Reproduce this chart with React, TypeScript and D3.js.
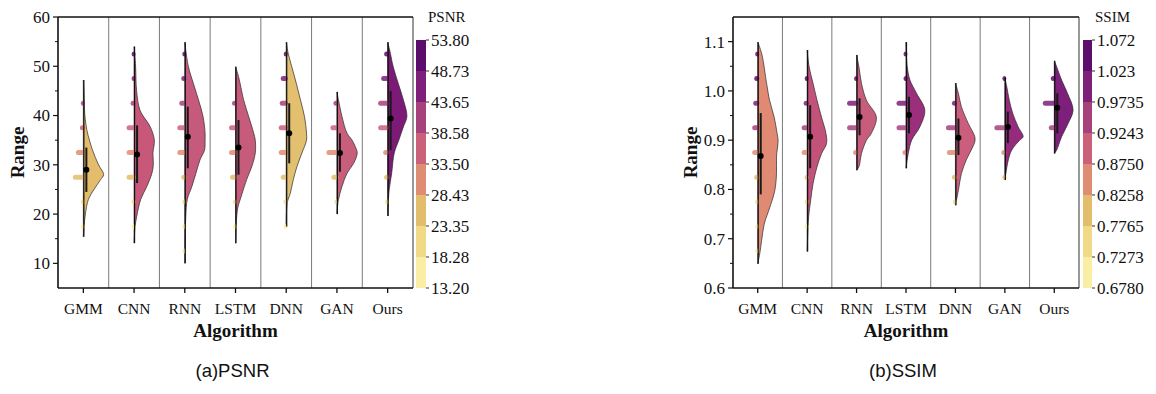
import React from "react";
import * as d3 from "d3";

const categories = ["GMM", "CNN", "RNN", "LSTM", "DNN", "GAN", "Ours"];

// discrete colormap, low -> high
const binColors = ["#f9eea3", "#f0da88", "#e2bd6c", "#df8d72", "#cb607a", "#a6417c", "#7e1f7a", "#5c0c6a"];

// ---------- PSNR ----------
const psnrTicks = [10, 20, 30, 40, 50, 60];
const psnrMinor = [15, 25, 35, 45, 55];
const psnrBarLabels = ["13.20", "18.28", "23.35", "28.43", "33.50", "38.58", "43.65", "48.73", "53.80"];
const psnrLevels = [12.5, 17.5, 22.5, 27.5, 32.5, 37.5, 42.5, 47.5, 52.5];
const psnrViolinColors = ["#e3bd6b", "#c8587a", "#c55a7c", "#c75b7b", "#e3c06f", "#c95e7c", "#7d1a78"];
const psnrProfiles: [number, number][][] = [
  [[15.4, 0], [17, 0.5], [20, 2], [23, 5], [25, 10.5], [27, 17], [28, 20], [30, 15], [33, 9], [35, 6], [37, 3.5], [40, 1.5], [42, 1], [45, 0.5], [47.2, 0]],
  [[14.1, 0], [17.5, 1], [19.5, 2.6], [23, 6.6], [25.6, 12.6], [28.3, 17.6], [30, 19], [32.4, 18.6], [35, 20], [37.7, 16], [41, 6], [45, 2.5], [50, 1.5], [54, 0]],
  [[10, 0], [19.5, 1], [23, 2.5], [25.6, 7], [28.3, 11], [31, 15], [33, 19.5], [35, 20], [36.5, 20], [39.8, 18], [43.2, 13.5], [46.5, 8.5], [50, 3.5], [54.9, 0]],
  [[14.1, 0], [21, 2], [23.5, 5.5], [27, 11], [29.6, 16], [32.4, 19.5], [35, 19.5], [36.4, 18], [39.8, 13], [43.2, 8], [47.9, 3], [49.9, 0]],
  [[17.5, 0], [22.3, 1], [24.2, 4], [27, 7], [29.6, 10.5], [32.4, 15.5], [35, 20], [36.4, 20], [39.8, 18], [43.2, 14], [46.5, 10], [49.9, 5.5], [52.6, 2], [54.9, 0]],
  [[20, 0], [22.9, 1.5], [25.6, 5], [28.3, 10], [30.3, 16.5], [32.4, 20], [33.5, 18.5], [35, 15], [36.4, 10], [39.8, 5], [43.2, 1.5], [44.8, 0]],
  [[19.6, 0], [21.5, 0.5], [24.9, 1.5], [28.3, 4], [32.4, 6.5], [35, 11], [37.7, 15.5], [39.8, 19], [43.2, 15.5], [46.5, 10.5], [49.9, 5.5], [53.3, 2], [54.9, 0]],
];
const psnrWhiskers: [number, number][] = [[15.4, 47.2], [14.1, 54], [10, 54.9], [14.1, 49.9], [17.5, 54.9], [20, 44.8], [19.6, 54.9]];
const psnrBoxes: [number, number][] = [[24.5, 33.5], [26.3, 38], [29.3, 41.8], [28, 39.1], [30.3, 42.5], [28.6, 36.4], [33, 45]];
const psnrMeans = [29, 32.1, 35.7, 33.5, 36.4, 32.4, 39.4];
const psnrStrips = [
  [0, 2, 4, 12, 9, 5, 2, 0, 0],
  [0, 2, 4, 9, 9, 9, 5, 2, 2],
  [1, 1, 3, 5, 9, 9, 7, 5, 2],
  [0, 1, 3, 7, 8, 8, 5, 0, 0],
  [0, 1, 4, 7, 9, 9, 8, 7, 3],
  [0, 0, 3, 7, 12, 8, 5, 0, 0],
  [0, 0, 2, 5, 6, 11, 11, 8, 5],
];

// ---------- SSIM ----------
const ssimTicks = [0.6, 0.7, 0.8, 0.9, 1.0, 1.1];
const ssimMinor = [0.65, 0.75, 0.85, 0.95, 1.05];
const ssimBarLabels = ["0.6780", "0.7273", "0.7765", "0.8258", "0.8750", "0.9243", "0.9735", "1.023", "1.072"];
const ssimLevels = [0.675, 0.725, 0.775, 0.825, 0.875, 0.925, 0.975, 1.025, 1.075];
const ssimViolinColors = ["#e08a74", "#c2527a", "#c75c7c", "#9c2f7b", "#cb5e7c", "#962a7c", "#7f1f7c"];
const ssimProfiles: [number, number][][] = [
  [[0.649, 0], [0.669, 2], [0.697, 4], [0.73, 6.6], [0.764, 12.3], [0.798, 17.3], [0.832, 19], [0.866, 19], [0.9, 20.6], [0.914, 19.6], [0.947, 16.6], [0.981, 12], [1.015, 9], [1.076, 4], [1.099, 0]],
  [[0.674, 0], [0.744, 1.5], [0.778, 3.6], [0.812, 6], [0.846, 10], [0.873, 14.6], [0.893, 19.6], [0.914, 19], [0.947, 14.5], [0.981, 10], [1.015, 6], [1.049, 2], [1.083, 0]],
  [[0.839, 0], [0.846, 2.4], [0.873, 5], [0.9, 10], [0.914, 15], [0.947, 20], [0.981, 10], [1.015, 5], [1.049, 2.4], [1.073, 0]],
  [[0.843, 0], [0.873, 2.3], [0.9, 5.7], [0.927, 14], [0.961, 19], [0.995, 10.7], [1.022, 4], [1.049, 1.3], [1.099, 0]],
  [[0.768, 0], [0.798, 3], [0.832, 6], [0.86, 11], [0.88, 16], [0.897, 19.6], [0.907, 19.6], [0.934, 13], [0.968, 6], [0.995, 3], [1.016, 0]],
  [[0.819, 0], [0.832, 1], [0.86, 3.5], [0.88, 7], [0.9, 15], [0.907, 18.5], [0.927, 13.5], [0.954, 8], [0.981, 4.5], [1.008, 2], [1.027, 0]],
  [[0.873, 0], [0.88, 2.4], [0.907, 7.4], [0.934, 14], [0.961, 19], [0.995, 13.4], [1.022, 7.4], [1.049, 2.4], [1.061, 0]],
];
const ssimWhiskers: [number, number][] = [[0.649, 1.099], [0.674, 1.083], [0.839, 1.073], [0.843, 1.099], [0.768, 1.016], [0.819, 1.027], [0.873, 1.061]];
const ssimBoxes: [number, number][] = [[0.79, 0.955], [0.843, 0.971], [0.91, 0.985], [0.914, 0.988], [0.87, 0.944], [0.894, 0.958], [0.914, 0.995]];
const ssimMeans = [0.868, 0.907, 0.947, 0.951, 0.905, 0.927, 0.966];
const ssimStrips = [
  [2, 3, 4, 5, 7, 7, 6, 5, 3],
  [0, 2, 3, 4, 7, 7, 5, 4, 0],
  [0, 0, 0, 0, 5, 11, 11, 4, 0],
  [0, 0, 0, 0, 5, 11, 11, 4, 3],
  [0, 0, 3, 5, 10, 11, 5, 0, 0],
  [0, 0, 0, 3, 5, 12, 0, 4, 0],
  [0, 0, 0, 0, 0, 7, 13, 5, 0],
];

const SERIF = "'Liberation Serif', 'Times New Roman', serif";
const SANS = "'Liberation Sans', Arial, sans-serif";

type PanelProps = {
  left: number;
  right: number;
  yDomain: [number, number];
  ticks: number[];
  minor: number[];
  fmt: (v: number) => string;
  profiles: [number, number][][];
  whiskers: [number, number][];
  boxes: [number, number][];
  means: number[];
  strips: number[][];
  levels: number[];
  violinColors: string[];
  barLabels: string[];
  barTitle: string;
  barX: number;
  barW: number;
  subtitle: string;
  yTitleX: number;
};

function Panel(p: PanelProps) {
  const top = 17;
  const bottom = 288;
  const x = d3.scaleBand<string>().domain(categories).range([p.left, p.right]).padding(0);
  const y = d3.scaleLinear().domain(p.yDomain).range([bottom, top]);
  const bw = x.bandwidth();
  const dScale = d3.scaleLinear().domain([0, 20]).range([0, bw * 0.4]);
  const stripScale = d3.scaleLinear().domain([0, 1]).range([0, 1]);
  const cbMin = parseFloat(p.barLabels[0]);
  const cbMax = parseFloat(p.barLabels[p.barLabels.length - 1]);
  const bin = (v: number) => Math.max(0, Math.min(7, Math.floor(((v - cbMin) / (cbMax - cbMin)) * 8)));
  const cbTop = 40;
  const cbBottom = 288;
  const cbY = d3.scaleLinear().domain([0, 8]).range([cbBottom, cbTop]);
  const mid = (p.left + p.right) / 2;

  return (
    <g>
      {/* dividers */}
      {categories.slice(1).map((c) => (
        <line key={c} x1={x(c)!} x2={x(c)!} y1={top} y2={bottom} stroke="#7a7a7a" strokeWidth={1} />
      ))}
      <line x1={p.right} x2={p.right} y1={top} y2={bottom} stroke="#333" strokeWidth={1} />
      <line x1={p.left} x2={p.right} y1={top} y2={top} stroke="#111" strokeWidth={1.6} />

      {categories.map((c, i) => {
        const cx = x(c)! + bw / 2;
        const area = d3
          .area<[number, number]>()
          .y((d) => y(d[0]))
          .x0(cx)
          .x1((d) => cx + dScale(d[1]))
          .curve(d3.curveCatmullRom.alpha(0.5));
        return (
          <g key={c}>
            <path d={area(p.profiles[i]) || ""} fill={p.violinColors[i]} stroke="#2a2a2a" strokeWidth={0.7} />
            {p.strips[i].map((n, j) => {
              if (!n) return null;
              const L = Math.max(4, stripScale(n));
              return (
                <rect
                  key={j}
                  x={cx + 1.5 - L}
                  y={y(p.levels[j]) - 2.5}
                  width={L}
                  height={5}
                  rx={2.5}
                  fill={binColors[bin(p.levels[j])]}
                  opacity={0.85}
                />
              );
            })}
            <line x1={cx + 0.5} x2={cx + 0.5} y1={y(p.whiskers[i][0])} y2={y(p.whiskers[i][1])} stroke="#111" strokeWidth={1.2} />
            <rect x={cx + 2} width={2} y={y(p.boxes[i][1])} height={y(p.boxes[i][0]) - y(p.boxes[i][1])} fill="#1a1a1a" />
            <circle cx={cx + 3} cy={y(p.means[i])} r={3} fill="#000" />
            <line x1={cx} x2={cx} y1={bottom} y2={bottom + 5} stroke="#111" strokeWidth={1.3} />
            <text x={cx} y={314} textAnchor="middle" fontFamily={SERIF} fontSize={15.5} fill="#111">
              {c}
            </text>
          </g>
        );
      })}

      {/* axes */}
      <line x1={p.left} x2={p.left} y1={top} y2={bottom} stroke="#111" strokeWidth={1.6} />
      <line x1={p.left} x2={p.right} y1={bottom} y2={bottom} stroke="#111" strokeWidth={1.6} />
      {p.ticks.map((t) => (
        <g key={t}>
          <line x1={p.left - 5} x2={p.left} y1={y(t)} y2={y(t)} stroke="#111" strokeWidth={1.2} />
          <text x={p.left - 8} y={y(t)} dy="0.35em" textAnchor="end" fontFamily={SERIF} fontSize={17} fill="#111">
            {p.fmt(t)}
          </text>
        </g>
      ))}
      {p.minor.map((t) => (
        <line key={t} x1={p.left - 3} x2={p.left} y1={y(t)} y2={y(t)} stroke="#111" strokeWidth={1} />
      ))}
      <text
        transform={`translate(${p.yTitleX},${(top + bottom) / 2}) rotate(-90)`}
        textAnchor="middle"
        dy="0.35em"
        fontFamily={SERIF}
        fontWeight="bold"
        fontSize={19}
        fill="#111"
      >
        Range
      </text>
      <text x={mid} y={337} textAnchor="middle" fontFamily={SERIF} fontWeight="bold" fontSize={19} fill="#111">
        Algorithm
      </text>
      <text x={mid - 3} y={377} textAnchor="middle" fontFamily={SANS} fontSize={18.5} fill="#111">
        {p.subtitle}
      </text>

      {/* colorbar */}
      {binColors.map((col, k) => (
        <rect key={k} x={p.barX} width={p.barW} y={cbY(k + 1)} height={cbY(k) - cbY(k + 1)} fill={col} />
      ))}
      {p.barLabels.map((lab, k) => (
        <g key={lab}>
          <line x1={p.barX + p.barW} x2={p.barX + p.barW + 3} y1={cbY(k)} y2={cbY(k)} stroke="#333" strokeWidth={1} />
          <text x={p.barX + p.barW + 5} y={cbY(k)} dy="0.35em" fontFamily={SERIF} fontSize={17} fill="#111">
            {lab}
          </text>
        </g>
      ))}
      <text x={p.barX + 12} y={22} fontFamily={SERIF} fontSize={15} fill="#111">
        {p.barTitle}
      </text>
    </g>
  );
}

export default function App() {
  return (
    <svg width={1156} height={394} style={{ position: "absolute", left: 0, top: 0, background: "#fff" }}>
      <rect width={1156} height={394} fill="#fff" />
      <Panel
        left={58}
        right={413}
        yDomain={[5, 60]}
        ticks={psnrTicks}
        minor={psnrMinor}
        fmt={(v) => String(v)}
        profiles={psnrProfiles}
        whiskers={psnrWhiskers}
        boxes={psnrBoxes}
        means={psnrMeans}
        strips={psnrStrips}
        levels={psnrLevels}
        violinColors={psnrViolinColors}
        barLabels={psnrBarLabels}
        barTitle="PSNR"
        barX={416}
        barW={10}
        subtitle="(a)PSNR"
        yTitleX={17}
      />
      <Panel
        left={733}
        right={1079}
        yDomain={[0.6, 1.15]}
        ticks={ssimTicks}
        minor={ssimMinor}
        fmt={(v) => d3.format(".1f")(v)}
        profiles={ssimProfiles}
        whiskers={ssimWhiskers}
        boxes={ssimBoxes}
        means={ssimMeans}
        strips={ssimStrips}
        levels={ssimLevels}
        violinColors={ssimViolinColors}
        barLabels={ssimBarLabels}
        barTitle="SSIM"
        barX={1083}
        barW={9}
        subtitle="(b)SSIM"
        yTitleX={690}
      />
    </svg>
  );
}
